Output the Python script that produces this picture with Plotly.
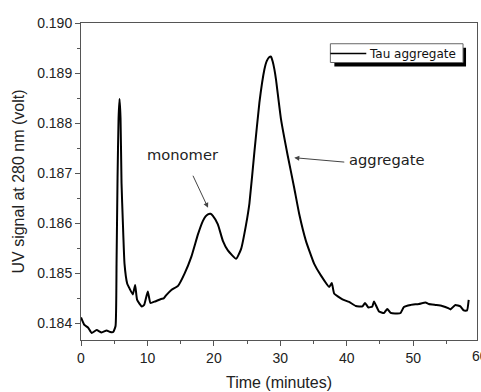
import plotly.graph_objects as go

time_min = [0, 0.5, 1.05, 1.6, 2.35, 3.1, 3.85, 4.4, 4.85, 5.2, 5.35, 5.5, 5.65, 5.8, 5.95,
            6.1, 6.3, 6.55, 6.95, 7.3, 7.8, 8.15, 8.45, 9.15, 9.5, 10.05, 10.45, 11.15,
            12.05, 12.45, 12.8, 13.6, 14.6, 15.6, 16.6, 17.6, 18.35, 18.75, 19.1, 19.5, 19.85,
            20.6, 21.35, 22.1, 23.35, 24.1, 24.85, 25.35, 26.1, 26.85, 27.6, 27.95, 28.35,
            28.6, 28.85, 29.1, 29.35, 30.1, 31.1, 32.1, 32.85, 33.85, 35.1, 36.1, 37.35,
            37.75, 38.1, 39.35, 40.35, 41.35, 42.35, 42.75, 43.25, 43.85, 44.1, 44.85, 45.6,
            46.1, 46.6, 47.6, 48.1, 48.6, 49.6, 50.85, 51.85, 52.35, 53.35, 54.35, 55.35,
            55.6, 56.35, 57.1, 57.6, 58.1, 58.35]
uv_signal = [0.18412, 0.18397, 0.18392, 0.18381, 0.18387, 0.18382, 0.18386, 0.18383, 0.18383,
             0.18395, 0.18520, 0.18690, 0.18808, 0.18848, 0.18810, 0.18680, 0.18602, 0.18519,
             0.18480, 0.18470, 0.18458, 0.18477, 0.18447, 0.18434, 0.18437, 0.18464, 0.18441,
             0.18444, 0.18449, 0.18450, 0.18456, 0.18467, 0.18475, 0.18500, 0.18533, 0.18578,
             0.18605, 0.18614, 0.18618, 0.18619, 0.18615, 0.18598, 0.18565, 0.18546, 0.18529,
             0.18549, 0.18598, 0.18640, 0.18743, 0.18841, 0.18907, 0.18924, 0.18932, 0.18933,
             0.18923, 0.18908, 0.18887, 0.18808, 0.18736, 0.18670, 0.18618, 0.18565, 0.18519,
             0.18496, 0.18473, 0.18481, 0.18460, 0.18448, 0.18443, 0.18435, 0.18434, 0.18441,
             0.18432, 0.18434, 0.18444, 0.18424, 0.18421, 0.18429, 0.18421, 0.18420, 0.18421,
             0.18433, 0.18437, 0.18439, 0.18442, 0.18439, 0.18437, 0.18435, 0.18430, 0.18428,
             0.18437, 0.18434, 0.18426, 0.18426, 0.18447]

x_ticks = [0, 10, 20, 30, 40, 50]
y_ticks = [0.184, 0.185, 0.186, 0.187, 0.188, 0.189, 0.190]
y_tick_text = ["0.184", "0.185", "0.186", "0.187", "0.188", "0.189", "0.190"]
series_name = "Tau aggregate"

W, H = 481, 392
ML, MR, MT, MB = 81, 3, 23, 48
PW, PH = W - ML - MR, H - MT - MB


def px(x):
    return (x - ML) / PW


def py(y):
    return (H - MB - y) / PH


AXIS = "#555555"
TXT = "#222222"
FONT = "Liberation Sans, Arial, sans-serif"

fig = go.Figure()
fig.add_trace(go.Scatter(x=time_min, y=uv_signal, mode="lines", name=series_name,
                         line=dict(color="black", width=2, shape="spline", smoothing=0.4),
                         showlegend=False))

fig.update_layout(
    width=W, height=H,
    margin=dict(l=ML, r=MR, t=MT, b=MB),
    paper_bgcolor="white", plot_bgcolor="white",
    font=dict(family=FONT, color=TXT, size=14),
)
fig.update_xaxes(
    range=[0, 59.6], tickvals=x_ticks, ticks="outside", ticklen=5, tickcolor=AXIS,
    showline=True, linecolor=AXIS, linewidth=1, mirror=True, showgrid=False, zeroline=False,
    tickfont=dict(size=14, family=FONT, color=TXT),
    minor=dict(ticks="outside", ticklen=3, dtick=5, tick0=0, tickcolor=AXIS, showgrid=False),
    title=dict(text="Time (minutes)", font=dict(size=16, family=FONT, color=TXT), standoff=12),
)
fig.update_yaxes(
    range=[0.18367, 0.190], tickvals=y_ticks, ticktext=y_tick_text, ticks="outside", ticklen=5,
    tickcolor=AXIS, showline=True, linecolor=AXIS, linewidth=1, mirror=True, showgrid=False,
    zeroline=False, tickfont=dict(size=14, family=FONT, color=TXT),
    minor=dict(ticks="outside", ticklen=3, dtick=0.0005, tick0=0.184, tickcolor=AXIS, showgrid=False),
    title=dict(text="UV signal at 280 nm (volt)", font=dict(size=16, family=FONT, color=TXT), standoff=8),
)

# "60" tick label sits at the right edge, cut off as in the reference
fig.add_annotation(xref="paper", yref="paper", x=px(481), y=py(360.5), text="60",
                   showarrow=False, font=dict(size=14, family=FONT, color=TXT),
                   xanchor="center", yanchor="middle")

# manual legend with shadow
fig.add_shape(type="rect", xref="paper", yref="paper", x0=px(335), x1=px(467), y0=py(67), y1=py(48),
              fillcolor="black", line=dict(width=0))
fig.add_shape(type="rect", xref="paper", yref="paper", x0=px(331), x1=px(464), y0=py(63), y1=py(44),
              fillcolor="white", line=dict(color="#666666", width=1))
fig.add_shape(type="line", xref="paper", yref="paper", x0=px(331), x1=px(367), y0=py(54), y1=py(54),
              line=dict(color="black", width=1.5))
fig.add_annotation(xref="paper", yref="paper", x=px(368), y=py(54), text=series_name,
                   showarrow=False, xanchor="left", yanchor="middle",
                   font=dict(size=12, family="DejaVu Sans", color="#111111"))

# labels with arrows
fig.add_annotation(x=19.12, y=0.18631, ax=16.75, ay=0.18698, axref="x", ayref="y",
                   text="", showarrow=True, arrowhead=2, arrowsize=1, arrowwidth=1,
                   arrowcolor="#444444", standoff=0, startstandoff=0)
fig.add_annotation(x=32.1, y=0.18731, ax=39.85, ay=0.18722, axref="x", ayref="y",
                   text="", showarrow=True, arrowhead=2, arrowsize=1, arrowwidth=1,
                   arrowcolor="#444444", standoff=0, startstandoff=0)
fig.add_annotation(x=15.42, y=0.18738, text="monomer", showarrow=False,
                   font=dict(size=14.7, family="DejaVu Sans", color=TXT))
fig.add_annotation(x=46.05, y=0.18728, text="aggregate", showarrow=False,
                   font=dict(size=14.7, family="DejaVu Sans", color=TXT))

fig.write_html("out.html")
